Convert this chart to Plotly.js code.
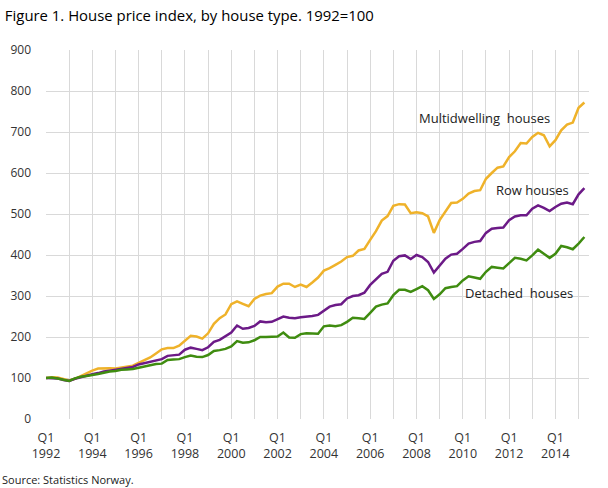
<!DOCTYPE html>
<html>
<head>
<meta charset="utf-8">
<script src="https://cdn.plot.ly/plotly-3.0.1.min.js"></script>
<style>
html,body{margin:0;padding:0;background:#fff;}
#chart{width:608px;height:488px;}
</style>
</head>
<body>
<div id="chart"></div>
<script>
// Quarterly index, 1992 Q1 ... 2015 Q2 (1992=100)
var startYear = 1992;
var multidwelling = [100,102,101,97,94,98,105,111,118,123,124,124,123,125,127,130,137,144,150,160,170,173,173,179,191,203,201,196,209,232,246,255,280,287,281,275,293,301,305,307,323,330,330,322,328,322,333,345,362,368,376,384,395,398,411,415,437,458,484,495,520,524,523,502,504,502,494,454,485,507,527,528,537,550,556,558,586,600,613,616,639,653,673,672,688,698,692,665,680,704,718,723,759,772];
var rowHouses = [100,100,99,95,93,98,102,106,109,112,116,118,120,122,124,127,133,136,139,142,146,154,155,157,169,174,171,168,175,188,193,202,211,228,220,222,227,238,236,237,243,250,247,246,248,249,251,254,265,274,278,280,294,300,302,308,327,341,354,359,386,397,399,390,400,395,383,357,375,391,401,403,415,428,432,434,454,464,466,467,485,494,497,497,513,521,515,507,517,525,528,524,548,563];
var detached = [100,101,99,96,93,99,103,105,107,110,113,116,117,120,121,122,125,128,132,134,135,144,145,146,151,155,152,151,156,166,168,171,177,190,186,187,192,200,200,200,201,211,199,198,207,209,208,208,226,228,226,229,237,247,246,244,259,274,279,282,302,315,315,310,317,324,314,293,304,319,322,324,338,348,345,342,359,371,369,367,380,393,391,387,399,413,403,393,403,422,419,414,428,444];
var seriesNames = ["Multidwelling  houses","Row houses","Detached  houses"];
var colors = ["#efb22a","#6c1a87","#3f8c10"];
var yTicks = [0,100,200,300,400,500,600,700,800,900];

var n = multidwelling.length;
var quarterLabels = [];
for (var i = 0; i < n; i++) {
  quarterLabels.push("Q" + (i % 4 + 1) + " " + (startYear + Math.floor(i / 4)));
}
var idx = quarterLabels.map(function(_, i){ return i; });

var tickvals = [], ticktext = [];
for (var k = 0; k < n; k += 4) {
  tickvals.push(k);
  var yr = startYear + k / 4;
  ticktext.push(((yr - startYear) % 2 === 0) ? "Q1<br>" + yr : "");
}

var allSeries = [multidwelling, rowHouses, detached];
var traces = allSeries.map(function(s, j){
  return {
    x: idx, y: s, type: "scatter", mode: "lines",
    name: seriesNames[j], text: quarterLabels,
    line: {color: colors[j], width: 2.5},
    hoverinfo: "text+y"
  };
});

var fontFam = "Open Sans, Noto Sans, sans-serif";
var annFont = {family: fontFam, size: 13, color: "#222"};
var layout = {
  width: 608, height: 488,
  margin: {l: 46, r: 19, t: 50, b: 69},
  paper_bgcolor: "#fff", plot_bgcolor: "#fff",
  showlegend: false,
  font: {family: fontFam, size: 12, color: "#333"},
  title: {text: "Figure 1. House price index, by house type. 1992=100",
          x: 0.008, xanchor: "left", xref: "container", y: 0.968, yanchor: "middle", yref: "container",
          font: {family: fontFam, size: 14.9, color: "#000"}},
  xaxis: {
    range: [0, 93.8], tickmode: "array", tickvals: tickvals, ticktext: ticktext,
    showgrid: true, gridcolor: "#d9d9d9", gridwidth: 1,
    zeroline: false, showline: false, ticks: "", tickangle: 0, ticklabelstandoff: 9,
    tickfont: {family: fontFam, size: 12.5, color: "#333"}
  },
  yaxis: {
    range: [0, 900], tickmode: "array", tickvals: yTicks,
    showgrid: true, gridcolor: "#d9d9d9", gridwidth: 1,
    zeroline: false, showline: false, ticks: "", ticklabelstandoff: 14,
    tickfont: {family: fontFam, size: 12, color: "#333"}
  },
  annotations: [
    {x: 75.7, y: 734, xref: "x", yref: "y", text: seriesNames[0], showarrow: false,
     xanchor: "center", yanchor: "middle", font: annFont},
    {x: 84.0, y: 558, xref: "x", yref: "y", text: seriesNames[1], showarrow: false,
     xanchor: "center", yanchor: "middle", font: annFont},
    {x: 81.7, y: 308, xref: "x", yref: "y", text: seriesNames[2], showarrow: false,
     xanchor: "center", yanchor: "middle", font: annFont},
    {x: 0, y: -((480 - 419.3) / (419.3 - 50)), xref: "paper", yref: "paper",
     xanchor: "left", yanchor: "middle", xshift: -46,
     text: "Source: Statistics Norway.", showarrow: false,
     font: {family: fontFam, size: 11, color: "#222"}}
  ]
};

Plotly.newPlot("chart", traces, layout, {displayModeBar: false, staticPlot: true});
</script>
</body>
</html>
